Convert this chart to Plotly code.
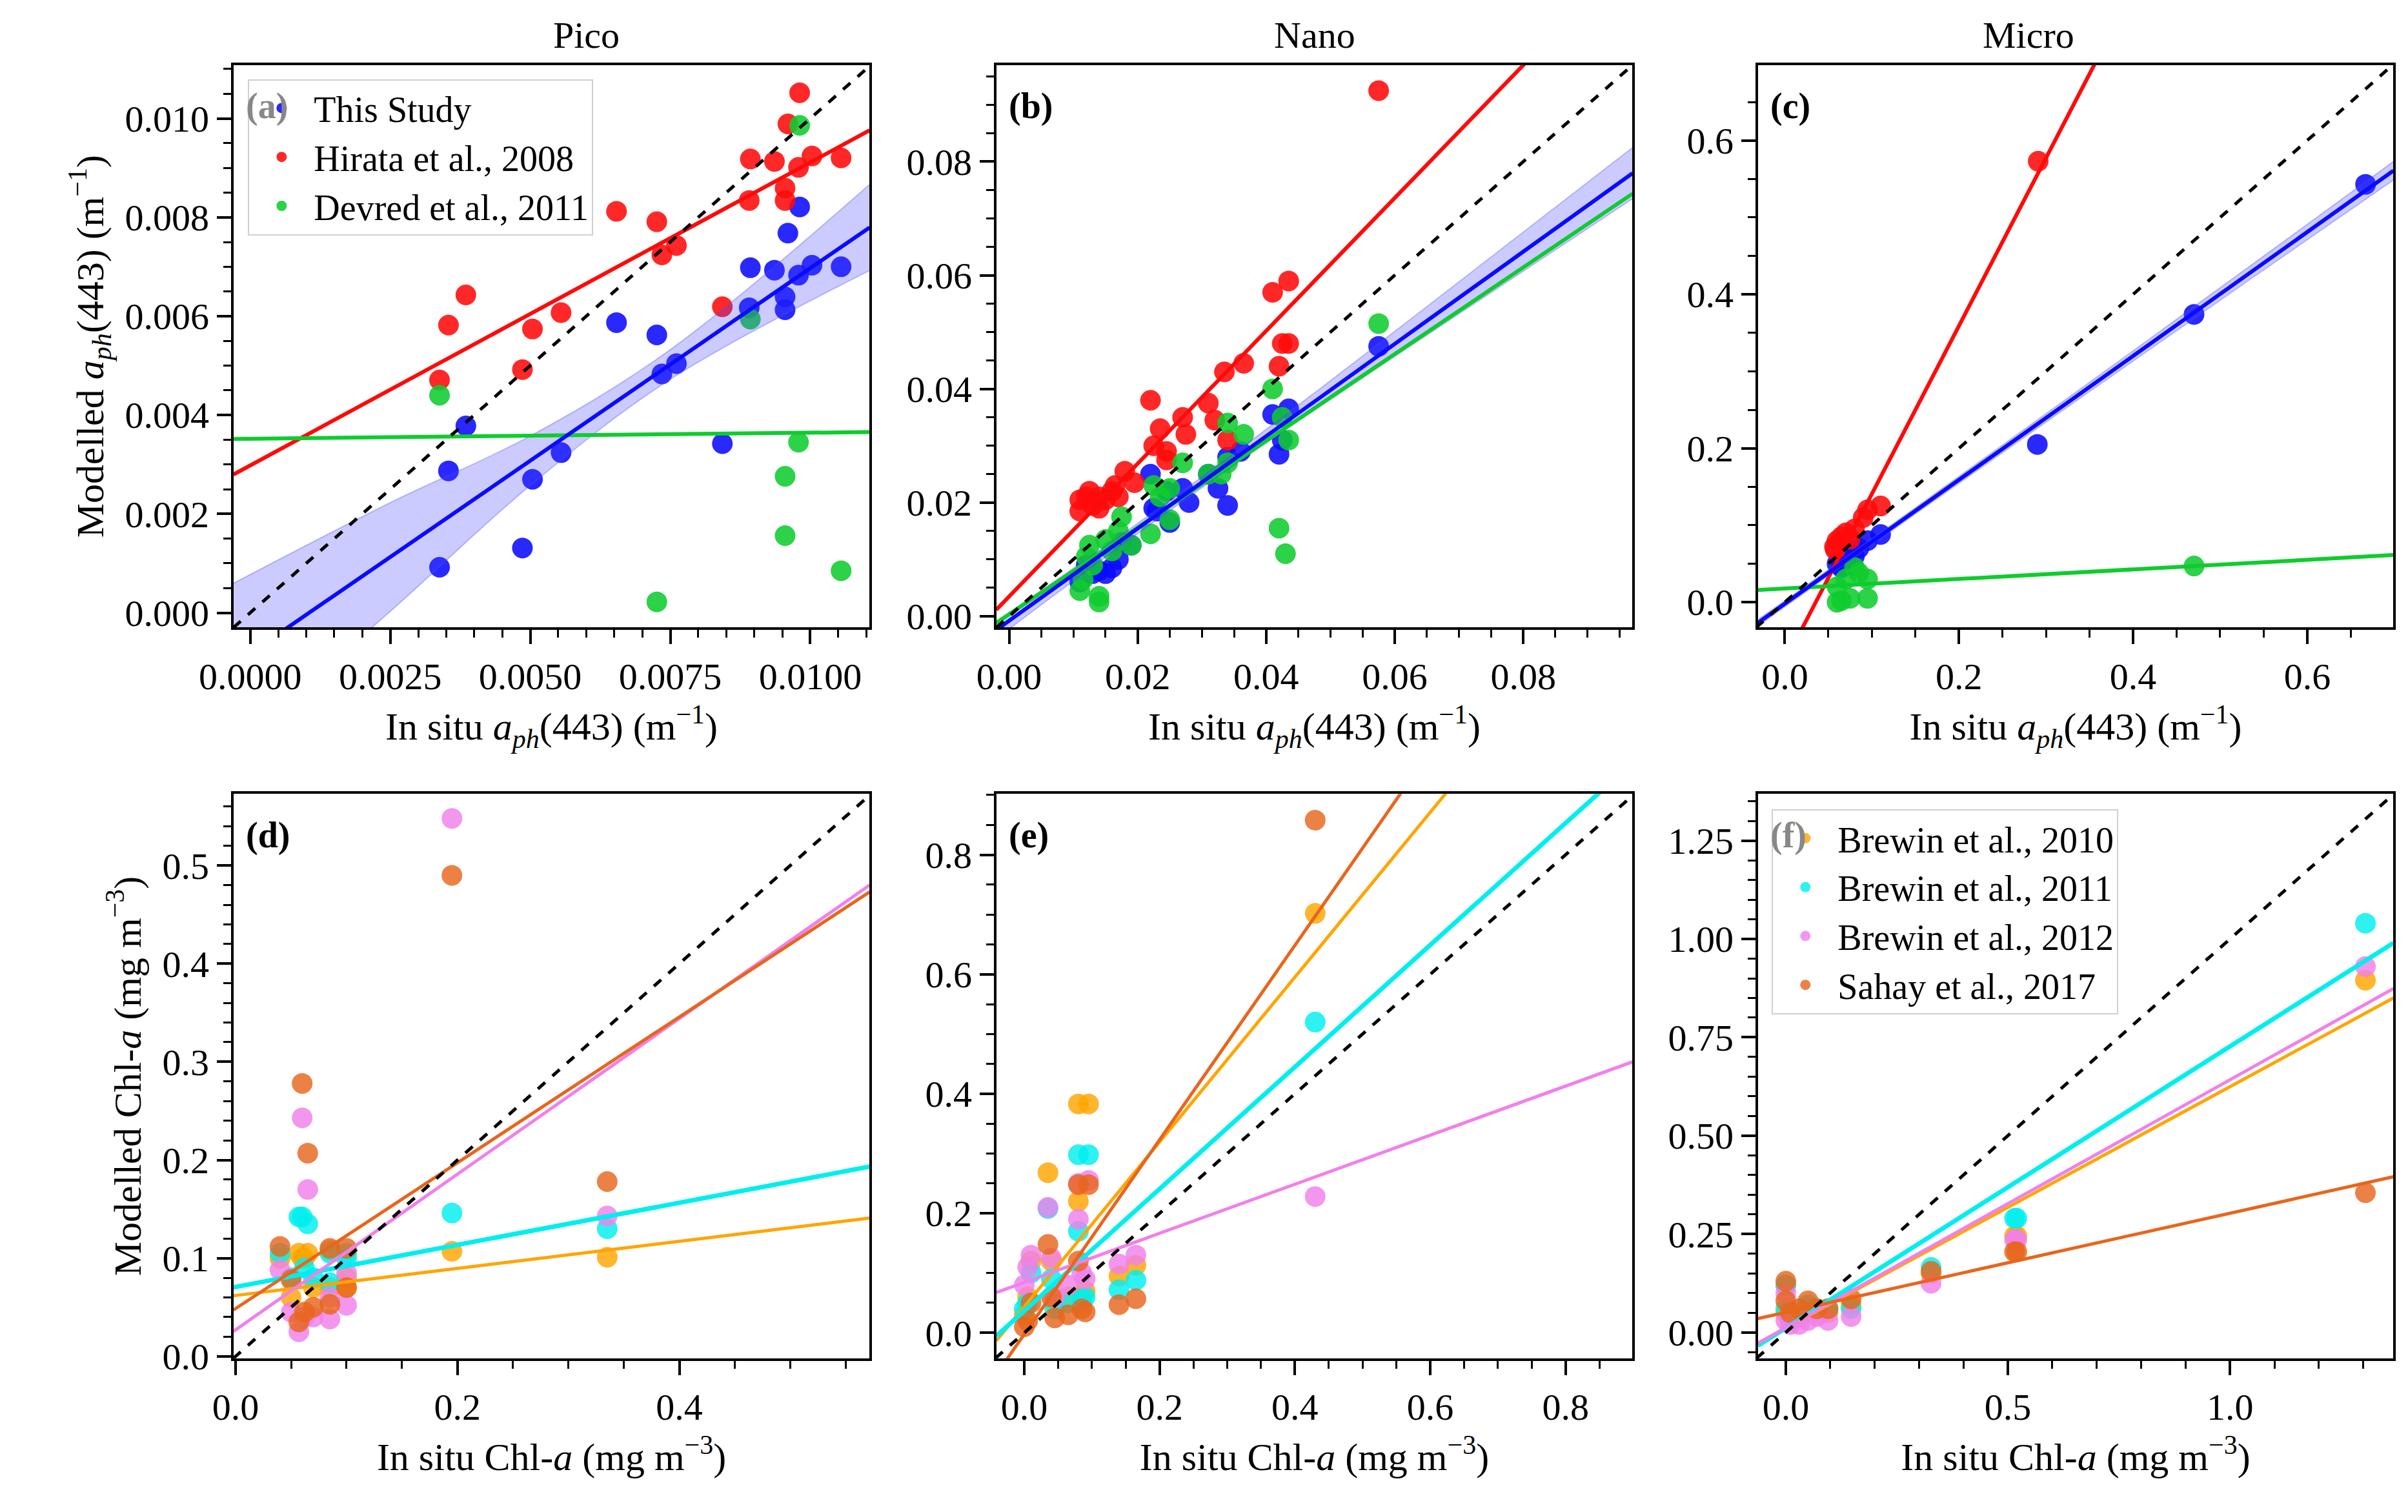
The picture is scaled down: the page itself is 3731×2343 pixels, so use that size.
import plotly.graph_objects as go
from plotly.subplots import make_subplots
import numpy as np

# ---------------- data ----------------
# (a) Pico
pico_x = [0.00338, 0.00354, 0.00385, 0.00486, 0.00504, 0.00555, 0.00654, 0.00726, 0.00735, 0.00761,
          0.00843, 0.00891, 0.00893, 0.00936, 0.00955, 0.00955, 0.00960, 0.00979, 0.00981, 0.01003, 0.01055]
pico_this = [0.00092, 0.00287, 0.00378, 0.00131, 0.00270, 0.00324, 0.00587, 0.00562, 0.00483, 0.00504,
             0.00342, 0.00617, 0.00698, 0.00693, 0.00639, 0.00613, 0.00768, 0.00683, 0.00821, 0.00703, 0.00700]
pico_hirata = [0.00471, 0.00582, 0.00643, 0.00492, 0.00574, 0.00607, 0.00812, 0.00791, 0.00724, 0.00743,
               0.00619, 0.00834, 0.00918, 0.00913, 0.00859, 0.00834, 0.00989, 0.00901, 0.01052, 0.00924, 0.00920]
pico_devred_x = [0.00338, 0.00726, 0.00893, 0.00955, 0.00955, 0.00979, 0.00981, 0.01055]
pico_devred = [0.00440, 0.00022, 0.00594, 0.00276, 0.00156, 0.00345, 0.00986, 0.00085]

# (b) Nano
nano_hir_x = [0.011, 0.011, 0.012, 0.0125, 0.013, 0.014, 0.014, 0.015, 0.016, 0.0165, 0.017, 0.018, 0.0195,
              0.022, 0.0225, 0.0235, 0.0245, 0.0245, 0.027, 0.0275, 0.031, 0.032, 0.0335, 0.034, 0.0365,
              0.041, 0.042, 0.0425, 0.0435, 0.0435, 0.0575]
nano_hir_y = [0.0185, 0.0205, 0.021, 0.022, 0.0195, 0.021, 0.019, 0.0205, 0.022, 0.023, 0.021, 0.0255, 0.0235,
              0.038, 0.030, 0.033, 0.0275, 0.029, 0.035, 0.032, 0.0375, 0.0345, 0.043, 0.031, 0.0445,
              0.057, 0.044, 0.048, 0.048, 0.059, 0.0925]
nano_this_x = [0.011, 0.012, 0.013, 0.014, 0.015, 0.016, 0.017, 0.0175, 0.019, 0.022, 0.0225, 0.023, 0.025,
               0.0245, 0.027, 0.028, 0.031, 0.0325, 0.034, 0.034, 0.036, 0.041, 0.042, 0.0425, 0.0435, 0.0575]
nano_this_y = [0.006, 0.009, 0.0075, 0.008, 0.0075, 0.0085, 0.010, 0.013, 0.0125, 0.025, 0.019, 0.0185, 0.0165,
               0.022, 0.0225, 0.020, 0.025, 0.0225, 0.0195, 0.028, 0.029, 0.0355, 0.0285, 0.031, 0.0365, 0.0475]
nano_dev_x = [0.011, 0.0115, 0.012, 0.0125, 0.013, 0.014, 0.014, 0.015, 0.016, 0.017, 0.0175, 0.019, 0.022,
              0.0225, 0.0235, 0.025, 0.025, 0.027, 0.031, 0.033, 0.034, 0.034, 0.0365, 0.041, 0.042, 0.0425,
              0.043, 0.0435, 0.0575]
nano_dev_y = [0.0045, 0.0065, 0.0105, 0.0125, 0.009, 0.0035, 0.0025, 0.0135, 0.0115, 0.015, 0.0175, 0.0125, 0.0145,
              0.023, 0.021, 0.0225, 0.017, 0.027, 0.025, 0.025, 0.034, 0.027, 0.032, 0.040, 0.0155, 0.035,
              0.011, 0.031, 0.0515]

# (c) Micro
micro_hir_x = [0.057, 0.060, 0.065, 0.070, 0.075, 0.080, 0.090, 0.095, 0.110, 0.058, 0.291]
micro_hir_y = [0.072, 0.080, 0.085, 0.090, 0.082, 0.095, 0.110, 0.120, 0.125, 0.068, 0.573]
micro_this_x = [0.060, 0.065, 0.070, 0.080, 0.085, 0.095, 0.110, 0.290, 0.470, 0.667]
micro_this_y = [0.050, 0.045, 0.055, 0.060, 0.070, 0.080, 0.088, 0.205, 0.374, 0.543]
micro_dev_x = [0.060, 0.060, 0.065, 0.070, 0.075, 0.080, 0.085, 0.095, 0.095, 0.470]
micro_dev_y = [0.000, 0.020, 0.002, 0.030, 0.005, 0.045, 0.038, 0.030, 0.005, 0.047]

# fitted lines: slope, intercept
fit_top = {
    "a": {"this": (0.779, -0.00082), "hirata": (0.613, 0.00298), "devred": (0.0122, 0.00352)},
    "b": {"this": (0.812, -0.0008), "hirata": (1.169, 0.00346), "devred": (0.763, 0.00035)},
    "c": {"this": (0.805, -0.002), "hirata": (2.183, -0.0775), "devred": (0.0623, 0.0177)},
}
# confidence band of "This Study" fit: x, half-width
band_x = {"a": [-0.0003, 0.0025, 0.005, 0.0075, 0.0112],
          "b": [-0.002, 0.02, 0.04, 0.06, 0.097],
          "c": [-0.03, 0.15, 0.35, 0.55, 0.70]}
band_hw = {"a": [0.00165, 0.0011, 0.0005, 0.0003, 0.0009],
           "b": [0.0015, 0.0009, 0.0012, 0.0022, 0.0045],
           "c": [0.004, 0.004, 0.006, 0.009, 0.012]}

# (d) Pico Chl-a
d_x = [0.040, 0.050, 0.057, 0.060, 0.062, 0.065, 0.070, 0.085, 0.085, 0.100, 0.100, 0.195, 0.335]
d_b10 = [0.100, 0.060, 0.105, 0.100, 0.100, 0.105, 0.070, 0.108, 0.070, 0.070, 0.080, 0.107, 0.101]
d_b11 = [0.105, 0.080, 0.142, 0.142, 0.090, 0.135, 0.080, 0.105, 0.075, 0.100, 0.105, 0.146, 0.130]
d_b12 = [0.088, 0.045, 0.025, 0.243, 0.040, 0.170, 0.040, 0.038, 0.060, 0.052, 0.085, 0.548, 0.143]
d_s17 = [0.112, 0.078, 0.035, 0.278, 0.045, 0.207, 0.050, 0.053, 0.110, 0.110, 0.070, 0.490, 0.178]

# (e) Nano Chl-a
e_x = [0.000, 0.005, 0.010, 0.035, 0.040, 0.045, 0.065, 0.080, 0.080, 0.085, 0.090, 0.095, 0.140, 0.165, 0.430]
e_b10 = [0.030, 0.060, 0.120, 0.268, 0.120, 0.050, 0.060, 0.383, 0.220, 0.060, 0.070, 0.383, 0.095, 0.113, 0.702]
e_b11 = [0.040, 0.050, 0.100, 0.208, 0.090, 0.040, 0.050, 0.298, 0.170, 0.055, 0.060, 0.298, 0.072, 0.088, 0.520]
e_b12 = [0.080, 0.110, 0.130, 0.210, 0.125, 0.060, 0.080, 0.250, 0.190, 0.100, 0.090, 0.255, 0.115, 0.130, 0.228]
e_s17 = [0.010, 0.020, 0.050, 0.148, 0.060, 0.025, 0.030, 0.248, 0.120, 0.040, 0.035, 0.248, 0.047, 0.057, 0.858]

# (f) Micro Chl-a
f_x = [0.000, 0.000, 0.010, 0.030, 0.050, 0.070, 0.095, 0.147, 0.327, 0.515, 0.520, 1.305]
f_b10 = [0.120, 0.050, 0.030, 0.040, 0.060, 0.050, 0.050, 0.070, 0.150, 0.245, 0.245, 0.895]
f_b11 = [0.120, 0.060, 0.040, 0.050, 0.070, 0.060, 0.060, 0.060, 0.165, 0.290, 0.290, 1.040]
f_b12 = [0.100, 0.030, 0.020, 0.020, 0.030, 0.040, 0.030, 0.040, 0.125, 0.235, 0.235, 0.930]
f_s17 = [0.130, 0.080, 0.050, 0.060, 0.080, 0.060, 0.060, 0.085, 0.155, 0.205, 0.205, 0.355]

fit_bot = {
    "d": {"b10": (0.138, 0.062), "b11": (0.2144, 0.0707), "b12": (0.7927, 0.027), "s17": (0.7425, 0.0487)},
    "e": {"b10": (1.379, 0.0436), "b11": (1.0204, 0.0367), "b12": (0.4106, 0.0843), "s17": (1.627, -0.0024)},
    "f": {"b10": (0.6134, 0.011), "b11": (0.7156, 0.0111), "b12": (0.630, 0.012), "s17": (0.252, 0.0508)},
}

# ---------------- styling ----------------
FONT = "Liberation Serif"
C_THIS, C_HIR, C_DEV = "#0a0aff", "#ff0a0a", "#0fcc2e"
C_B10, C_B11, C_B12, C_S17 = "#ffa500", "#00eeee", "#f080ea", "#e8651c"
names_top = {"this": "This Study", "hirata": "Hirata et al., 2008", "devred": "Devred et al., 2011"}
cols_top = {"this": C_THIS, "hirata": C_HIR, "devred": C_DEV}
names_bot = {"b10": "Brewin et al., 2010", "b11": "Brewin et al., 2011",
             "b12": "Brewin et al., 2012", "s17": "Sahay et al., 2017"}
cols_bot = {"b10": C_B10, "b11": C_B11, "b12": C_B12, "s17": C_S17}

ranges = {
    "a": ([-0.0003, 0.01106], [-0.0003, 0.01108]),
    "b": ([-0.002, 0.097], [-0.002, 0.097]),
    "c": ([-0.031, 0.699], [-0.033, 0.698]),
    "d": ([-0.002, 0.5716], [-0.002, 0.573]),
    "e": ([-0.0414, 0.899], [-0.0427, 0.902]),
    "f": ([-0.063, 1.368], [-0.066, 1.369]),
}
ticks = {  # (x dtick, x minor, x fmt, y dtick, y minor, y fmt)
    "a": (0.0025, 0.0005, ".4f", 0.002, 0.0005, ".3f"),
    "b": (0.02, 0.005, ".2f", 0.02, 0.005, ".2f"),
    "c": (0.2, 0.05, ".1f", 0.2, 0.05, ".1f"),
    "d": (0.2, 0.05, ".1f", 0.1, 0.02, ".1f"),
    "e": (0.2, 0.05, ".1f", 0.2, 0.05, ".1f"),
    "f": (0.5, 0.1, ".1f", 0.25, 0.05, ".2f"),
}

W, H = 3731, 2343
xdom = [(305 / W, 1305 / W), (1504 / W, 2504 / W), (2701 / W, 3700 / W)]
ydom = [(1 - 977 / H, 1 - 94 / H), (1 - 2124 / H, 1 - 1238 / H)]

fig = make_subplots(rows=2, cols=3)
panels = ["a", "b", "c", "d", "e", "f"]


def cell(p):
    i = panels.index(p)
    return i // 3 + 1, i % 3 + 1


# top row
pts_top = {
    "a": {"this": (pico_x, pico_this), "hirata": (pico_x, pico_hirata), "devred": (pico_devred_x, pico_devred)},
    "b": {"this": (nano_this_x, nano_this_y), "hirata": (nano_hir_x, nano_hir_y), "devred": (nano_dev_x, nano_dev_y)},
    "c": {"this": (micro_this_x, micro_this_y), "hirata": (micro_hir_x, micro_hir_y), "devred": (micro_dev_x, micro_dev_y)},
}
for p in ["a", "b", "c"]:
    r, c = cell(p)
    xr = ranges[p][0]
    for k in ["this", "hirata", "devred"]:
        xs, ys = pts_top[p][k]
        fig.add_trace(go.Scatter(x=xs, y=ys, mode="markers", name=names_top[k],
                                 marker=dict(color=cols_top[k], size=32, opacity=0.88),
                                 showlegend=(p == "a"), legend="legend"), row=r, col=c)
    # confidence band
    bx = np.array(band_x[p])
    s, b0 = fit_top[p]["this"]
    hw = np.array(band_hw[p])
    fig.add_trace(go.Scatter(x=bx, y=s * bx + b0 - hw, mode="lines", line=dict(color="rgba(80,80,255,0.35)", width=2, shape="spline"),
                             showlegend=False, hoverinfo="skip"), row=r, col=c)
    fig.add_trace(go.Scatter(x=bx, y=s * bx + b0 + hw, mode="lines", line=dict(color="rgba(80,80,255,0.35)", width=2, shape="spline"),
                             fill="tonexty", fillcolor="rgba(70,70,255,0.28)", showlegend=False, hoverinfo="skip"), row=r, col=c)
    lx = np.array(xr)
    for k in ["hirata", "devred", "this"]:
        s, b0 = fit_top[p][k]
        fig.add_trace(go.Scatter(x=lx, y=s * lx + b0, mode="lines", line=dict(color=cols_top[k], width=6),
                                 showlegend=False), row=r, col=c)

# bottom row
pts_bot = {
    "d": (d_x, {"b10": d_b10, "b11": d_b11, "b12": d_b12, "s17": d_s17}),
    "e": (e_x, {"b10": e_b10, "b11": e_b11, "b12": e_b12, "s17": e_s17}),
    "f": (f_x, {"b10": f_b10, "b11": f_b11, "b12": f_b12, "s17": f_s17}),
}
for p in ["d", "e", "f"]:
    r, c = cell(p)
    xs, series = pts_bot[p]
    for k in ["b10", "b11", "b12", "s17"]:
        fig.add_trace(go.Scatter(x=xs, y=series[k], mode="markers", name=names_bot[k],
                                 marker=dict(color=cols_bot[k], size=32, opacity=0.82),
                                 showlegend=(p == "f"), legend="legend2"), row=r, col=c)
    lx = np.array(ranges[p][0])
    for k in ["b10", "b11", "b12", "s17"]:
        s, b0 = fit_bot[p][k]
        fig.add_trace(go.Scatter(x=lx, y=s * lx + b0, mode="lines",
                                 line=dict(color=cols_bot[k], width=7 if k == "b11" else 5),
                                 showlegend=False), row=r, col=c)

# 1:1 dashed lines and axes
for p in panels:
    r, c = cell(p)
    xr, yr = ranges[p]
    lo, hi = min(xr[0], yr[0]), max(xr[1], yr[1])
    fig.add_trace(go.Scatter(x=[lo, hi], y=[lo, hi], mode="lines", line=dict(color="black", width=5, dash="dash"),
                             showlegend=False), row=r, col=c)
    dx, mx, fx, dy, my, fy = ticks[p]
    common = dict(showline=True, linecolor="black", linewidth=4, mirror=True, ticks="outside", ticklen=22,
                  tickwidth=4, tickcolor="black", showgrid=False, zeroline=False,
                  tickfont=dict(family=FONT, size=58, color="black"))
    fig.update_xaxes(range=xr, tick0=0, dtick=dx, tickformat=fx, domain=xdom[c - 1],
                     minor=dict(ticks="outside", ticklen=12, tickwidth=2.5, tickcolor="black", dtick=mx, tick0=0),
                     **common, row=r, col=c)
    fig.update_yaxes(range=yr, tick0=0, dtick=dy, tickformat=fy, domain=ydom[r - 1],
                     minor=dict(ticks="outside", ticklen=12, tickwidth=2.5, tickcolor="black", dtick=my, tick0=0),
                     **common, row=r, col=c)

title_font = dict(family=FONT, size=60, color="black")
xt_top = "In situ <i>a</i><sub><i>ph</i></sub>(443) (m<sup>−1</sup>)"
xt_bot = "In situ Chl-<i>a</i> (mg m<sup>−3</sup>)"
for col in [1, 2, 3]:
    fig.update_xaxes(title=dict(text=xt_top, font=title_font, standoff=25), row=1, col=col)
    fig.update_xaxes(title=dict(text=xt_bot, font=title_font, standoff=25), row=2, col=col)
fig.update_yaxes(title=dict(text="Modelled <i>a</i><sub><i>ph</i></sub>(443) (m<sup>−1</sup>)", font=title_font, standoff=15), row=1, col=1)
fig.update_yaxes(title=dict(text="Modelled Chl-<i>a</i> (mg m<sup>−3</sup>)", font=title_font, standoff=15), row=2, col=1)

annotations = []
for i, t in enumerate(["Pico", "Nano", "Micro"]):
    annotations.append(dict(text=t, x=(xdom[i][0] + xdom[i][1]) / 2, y=ydom[0][1], xref="paper", yref="paper",
                            yanchor="bottom", yshift=12, showarrow=False, font=dict(family=FONT, size=58, color="black")))
axis_ids = ["x", "x2", "x3", "x4", "x5", "x6"]
for p, ax in zip(panels, axis_ids):
    ya = ax.replace("x", "y")
    annotations.append(dict(text="<b>(%s)</b>" % p, x=0.018, y=0.965, xref=ax + " domain", yref=ya + " domain",
                            xanchor="left", yanchor="top", showarrow=False,
                            font=dict(family=FONT, size=56, color="#888888" if p in ("a", "f") else "black")))

legend_style = dict(bgcolor="rgba(255,255,255,0.8)", bordercolor="#d0d0d0", borderwidth=2,
                    font=dict(family=FONT, size=56, color="black"), xanchor="left", yanchor="top",
                    itemsizing="trace", itemwidth=90, traceorder="normal", tracegroupgap=0)
fig.update_layout(
    width=W, height=H, plot_bgcolor="white", paper_bgcolor="white",
    margin=dict(l=0, r=0, t=0, b=0),
    annotations=annotations,
    legend=dict(x=328 / W, y=1 - 116 / H, **legend_style),
    legend2=dict(x=2723 / W, y=1 - 1262 / H, **legend_style),
)

fig.write_html("out.html")
